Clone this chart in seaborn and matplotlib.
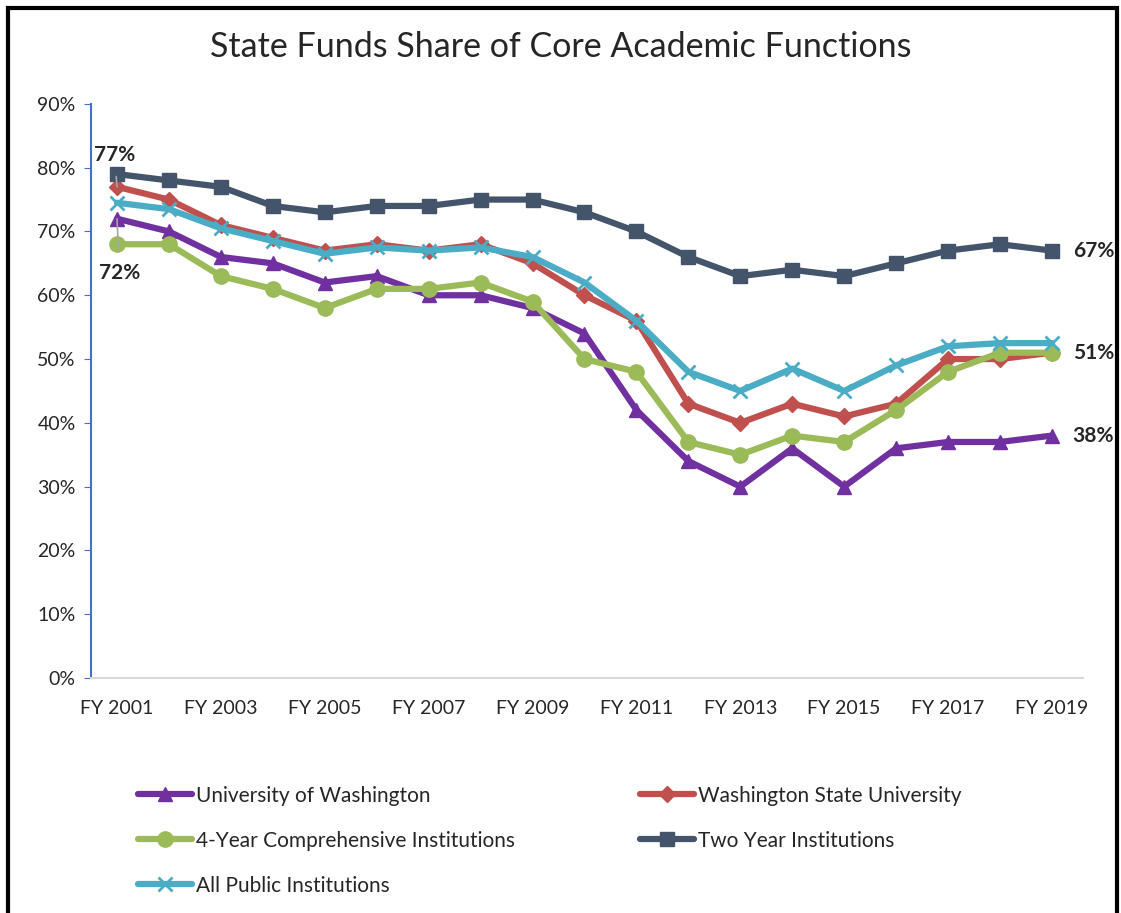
import pandas as pd
import seaborn as sns
import matplotlib.pyplot as plt
from matplotlib.patches import Rectangle

# data (percent)
years = [f"FY {y}" for y in range(2001, 2020)]
uw = [72, 70, 66, 65, 62, 63, 60, 60, 58, 54, 42, 34, 30, 36, 30, 36, 37, 37, 38]
wsu = [77, 75, 71, 69, 67, 68, 67, 68, 65, 60, 56, 43, 40, 43, 41, 43, 50, 50, 51]
four_year = [68, 68, 63, 61, 58, 61, 61, 62, 59, 50, 48, 37, 35, 38, 37, 42, 48, 51, 51]
two_year = [79, 78, 77, 74, 73, 74, 74, 75, 75, 73, 70, 66, 63, 64, 63, 65, 67, 68, 67]
all_public = [74.5, 73.5, 70.5, 68.5, 66.5, 67.5, 67, 67.5, 66, 62, 56, 48, 45, 48.5, 45, 49, 52, 52.5, 52.5]

names = ["University of Washington", "Washington State University",
         "4-Year Comprehensive Institutions", "Two Year Institutions",
         "All Public Institutions"]
series = [uw, wsu, four_year, two_year, all_public]

colors = ["#7030A0", "#C0504D", "#9BBB59", "#44546A", "#4BACC6"]
markers = ["^", "D", "o", "s", "x"]
msizes = [10, 8, 11, 10, 10]

sns.set_style("white")
plt.rcParams['font.family'] = ['Lato', 'DejaVu Sans']

fig = plt.figure(figsize=(11.21, 9.13), dpi=100)
ax = fig.add_axes([0.0812, 0.2574, 0.885, 0.6288])

for name, vals, c, m, ms in zip(names, series, colors, markers, msizes):
    d = pd.DataFrame({"i": range(len(years)), "v": vals})
    sns.lineplot(data=d, x="i", y="v", ax=ax, color=c, marker=m, markersize=ms,
                 linewidth=4.5, markeredgecolor=c,
                 markeredgewidth=2 if m == "x" else 1, label=name)

ax.set_xlim(-0.5, 18.6)
ax.set_ylim(0, 90)
ax.set_yticks(range(0, 91, 10))
ax.set_yticklabels([f"{v}%" for v in range(0, 91, 10)], fontsize=14)
ax.set_xticks(range(0, len(years), 2))
ax.set_xticklabels(years[::2], fontsize=14)
ax.tick_params(axis='x', length=0, pad=16)
ax.tick_params(axis='y', length=5, color="#4472C4", direction='out', left=True, pad=6)
ax.set_xlabel("")
ax.set_ylabel("")

for s in ["top", "right"]:
    ax.spines[s].set_visible(False)
ax.spines["left"].set_color("#4472C4")
ax.spines["left"].set_linewidth(1.5)
ax.spines["bottom"].set_color("#D9D9D9")
ax.spines["bottom"].set_linewidth(1.5)

# data labels
ax.annotate("77%", xy=(0, wsu[0]), xytext=(-0.05, 82), fontsize=15, fontweight='bold',
            ha='center', va='center',
            arrowprops=dict(arrowstyle='-', color='#A6A6A6', lw=1.2, shrinkA=6, shrinkB=0))
ax.annotate("72%", xy=(0, uw[0]), xytext=(0.05, 63.5), fontsize=15, fontweight='bold',
            ha='center', va='center',
            arrowprops=dict(arrowstyle='-', color='#A6A6A6', lw=1.2, shrinkA=6, shrinkB=0))
for vals in [two_year, four_year, uw]:
    ax.text(18.4, vals[-1], f"{vals[-1]}%", fontsize=15, fontweight='bold',
            ha='left', va='center')

fig.text(0.5, 0.948, "State Funds Share of Core Academic Functions", fontsize=24.5,
         ha='center', va='center', family=['Lato', 'DejaVu Sans'])

ax.legend_.remove()
h, l = ax.get_legend_handles_labels()
# order: row-wise two columns
order = [0, 2, 4, 1, 3]
leg = fig.legend([h[i] for i in order], [l[i] for i in order], ncol=2,
                 loc='upper left', bbox_to_anchor=(0.106, 0.16), frameon=False,
                 fontsize=15, columnspacing=6.0, handlelength=2.6, handletextpad=0.2,
                 labelspacing=1.2)

# outer border
fig.patches.append(Rectangle((0.007, -0.01), 0.989, 1.001, transform=fig.transFigure,
                             fill=False, edgecolor='black', linewidth=3))

fig.savefig("out.png", dpi=100)
